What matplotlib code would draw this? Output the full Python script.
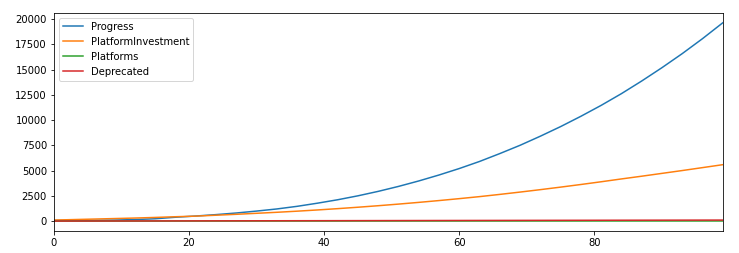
import matplotlib
matplotlib.use("Agg")
import matplotlib.pyplot as plt

steps = list(range(0, 100, 3))
progress = [60, 65, 75, 100, 150, 230, 380, 500, 640, 800, 990, 1200, 1460, 1770,
            2110, 2500, 2940, 3430, 3970, 4560, 5200, 5900, 6680, 7500, 8400, 9350,
            10370, 11450, 12610, 13860, 15180, 16570, 18050, 19620]
platform_investment = [100, 150, 200, 250, 300, 360, 430, 490, 580, 670, 770, 870,
                       980, 1100, 1230, 1370, 1520, 1680, 1850, 2030, 2220, 2420, 2640,
                       2870, 3110, 3360, 3620, 3890, 4170, 4440, 4720, 5000, 5290, 5580]
platforms = [1, 1, 1, 2, 2, 2, 3, 3, 3, 4, 4, 4, 5, 5, 5, 6, 6, 6, 7, 7, 7, 8, 8, 8,
             9, 9, 9, 10, 10, 10, 10, 10, 10, 10]
deprecated = [0, 3, 6, 9, 12, 15, 18, 21, 24, 27, 30, 33, 36, 39, 42, 45, 48, 51, 54,
              57, 60, 63, 66, 69, 72, 75, 78, 81, 84, 87, 90, 93, 96, 99]

fig = plt.figure(figsize=(739 / 72, 253 / 72), dpi=72)
ax = fig.add_axes([0.073, 0.087, 0.905, 0.862])

ax.plot(steps, progress, label="Progress")
ax.plot(steps, platform_investment, label="PlatformInvestment")
ax.plot(steps, platforms, label="Platforms")
ax.plot(steps, deprecated, label="Deprecated")

ax.set_xlim(0, 99)
ax.set_xticks([0, 20, 40, 60, 80])
ax.set_yticks(range(0, 20001, 2500))
ax.legend(loc="upper left")

fig.savefig("out.png", dpi=72)
